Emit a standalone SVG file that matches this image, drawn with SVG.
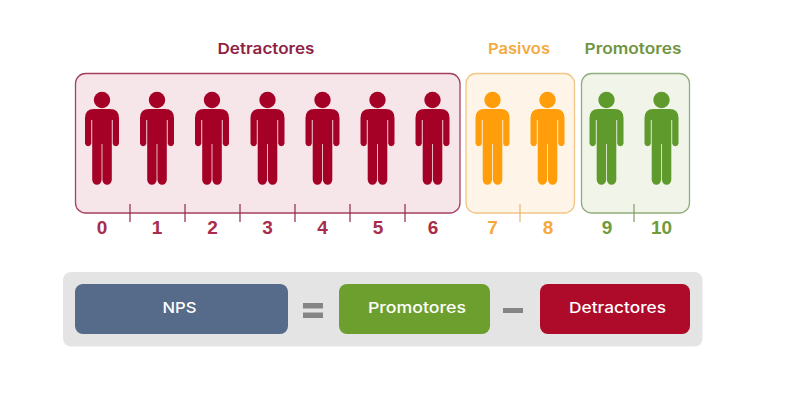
<svg xmlns="http://www.w3.org/2000/svg" width="800" height="400" viewBox="0 0 800 400">
<style>
.h{font-family:"Inter","Noto Sans",sans-serif;font-size:15px;font-weight:600;text-anchor:middle}
.n{font-family:"Liberation Sans",Arial,sans-serif;font-size:19px;font-weight:700;text-anchor:middle}
.b{font-family:"Inter","Noto Sans",sans-serif;font-size:15px;font-weight:500;fill:#fff;text-anchor:middle}
.r{fill:#a50026}.o{fill:#ff9d0a}.g{fill:#5f9a2c}
.nr{fill:#a82c4c}.no{fill:#f5a93a}.ng{fill:#6f9a3e}
.t{stroke-width:1.2;fill:none}
</style>
<defs>
<g id="p">
<circle cx="0" cy="100" r="8.2"/>
<path d="M-8 109H8Q17 109 17 118V143.500a3.200 3.200 0 0 1-6.300 0V120H9.800V180a4.800 6 0 0 1-9.400 0V144H-.4V180a4.800 6 0 0 1-9.400 0V120H-10.700V143.500a3.200 3.200 0 0 1-6.300 0V118Q-17 109-8 109Z"/>
</g>
</defs>
<rect width="800" height="400" fill="#fff"/>
<g id="detractores">
<rect x="75.500" y="73.500" width="384.500" height="139.500" rx="10" fill="#f6e5e9" stroke="#a5405f" stroke-width="1.300"/>
<text class="h" x="266" y="54" fill="#8f1f44" textLength="97" lengthAdjust="spacingAndGlyphs">Detractores</text>
<g class="r"><use href="#p" x="102"/><use href="#p" x="157"/><use href="#p" x="212"/><use href="#p" x="267.500"/><use href="#p" x="322.500"/><use href="#p" x="377.500"/><use href="#p" x="432.500"/></g>
<g class="t" stroke="#8f2a4a"><path d="M130 204V222M185 204V222M240 204V222M295 204V222M350 204V222M405 204V222"/></g>
<g class="n nr"><text x="102" y="234">0</text><text x="157" y="234">1</text><text x="212.500" y="234">2</text><text x="267.500" y="234">3</text><text x="322.500" y="234">4</text><text x="378" y="234">5</text><text x="433" y="234">6</text></g>
</g>
<g id="pasivos">
<rect x="466" y="73.500" width="108.500" height="139.500" rx="10" fill="#fef5e8" stroke="#f1c585" stroke-width="1.300"/>
<text class="h" x="519" y="54" fill="#f2aa44" textLength="62" lengthAdjust="spacingAndGlyphs">Pasivos</text>
<g class="o"><use href="#p" x="492.500"/><use href="#p" x="547.500"/></g>
<path class="t" stroke="#e5b870" d="M520 204V222"/>
<g class="n no"><text x="492.500" y="234">7</text><text x="548" y="234">8</text></g>
</g>
<g id="promotores">
<rect x="581.500" y="73.500" width="108" height="139.500" rx="10" fill="#f0f4e9" stroke="#91ad7b" stroke-width="1.300"/>
<text class="h" x="633" y="54" fill="#6f963f" textLength="97" lengthAdjust="spacingAndGlyphs">Promotores</text>
<g class="g"><use href="#p" x="606.500"/><use href="#p" x="661.500"/></g>
<path class="t" stroke="#7f9a68" d="M634 204V222"/>
<g class="n ng"><text x="607" y="234">9</text><text x="661.500" y="234">10</text></g>
</g>
<g id="formula">
<rect x="63" y="272" width="639.500" height="74.500" rx="8" fill="#e4e4e4"/>
<g id="nps"><rect x="75" y="284" width="213" height="50" rx="8" fill="#566a8a"/><text class="b" x="179.500" y="313" textLength="34" lengthAdjust="spacingAndGlyphs">NPS</text></g>
<g id="eq"><rect x="303" y="303" width="20" height="5.500" fill="#858585"/><rect x="303" y="312.500" width="20" height="5.500" fill="#858585"/></g>
<g id="prom"><rect x="339" y="284" width="151" height="50" rx="8" fill="#6d9f2e"/><text class="b" x="417" y="313" textLength="98" lengthAdjust="spacingAndGlyphs">Promotores</text></g>
<g id="minus"><rect x="503" y="308" width="20" height="5" fill="#858585"/></g>
<g id="det"><rect x="540" y="284" width="150" height="50" rx="8" fill="#ae0a2a"/><text class="b" x="617.500" y="313" textLength="97" lengthAdjust="spacingAndGlyphs">Detractores</text></g>
</g>
</svg>
